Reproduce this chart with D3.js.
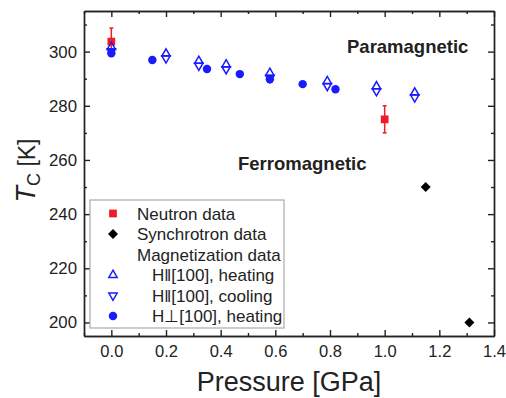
<!DOCTYPE html>
<html>
<head>
<meta charset="utf-8">
<script src="https://cdn.jsdelivr.net/npm/d3@7"></script>
<style>
  body { margin: 0; background: #fff; }
  svg text { font-family: "Liberation Sans", Arial, sans-serif; fill: #222; }
  .axis path, .axis line { stroke: #222; stroke-width: 1.4; }
</style>
</head>
<body>
<div id="chart"></div>
<script>
//data
var neutronP = [0.0, 1.0];
var neutronT = [303.7, 275.0];
var neutronErr = [5, 5];

var synchP = [1.15, 1.31];
var synchT = [250, 200];

var heatP = [0.0, 0.2, 0.32, 0.42, 0.58, 0.79, 0.97, 1.11];
var heatT = [301.7, 299.25, 296.55, 295.25, 292.1, 289.05, 287.15, 284.85];

var coolP = [0.0, 0.2, 0.32, 0.42, 0.58, 0.79, 0.97, 1.11];
var coolT = [300.2, 297.55, 294.85, 293.55, 290.4, 287.35, 285.45, 283.15];

var perpP = [0.0, 0.15, 0.35, 0.47, 0.58, 0.70, 0.82];
var perpT = [299.4, 296.9, 293.6, 291.7, 289.8, 288.0, 286.1];

var xTicks = [0.0, 0.2, 0.4, 0.6, 0.8, 1.0, 1.2, 1.4];
var xMinor = [-0.1, 0.1, 0.3, 0.5, 0.7, 0.9, 1.1, 1.3];
var yTicks = [200, 220, 240, 260, 280, 300];
var yMinor = [210, 230, 250, 270, 290, 310];

var legendLabels = ["Neutron data", "Synchrotron data", "Magnetization data",
                    "H\u2016[100], heating", "H\u2016[100], cooling", "H\u22a5[100], heating"];

var red = "#ee1c25", blue = "#1a1aff", black = "#000";

//set up svg
var W = 506, H = 398;
var margin = {top: 11, right: 12, bottom: 62, left: 84};
var width = W - margin.left - margin.right,
    height = H - margin.top - margin.bottom;

var svg = d3.select("#chart").append("svg")
    .attr("width", W).attr("height", H)
  .append("g")
    .attr("transform", "translate(" + margin.left + "," + margin.top + ")");

var x = d3.scaleLinear().domain([-0.1, 1.4]).range([0, width]);
var y = d3.scaleLinear().domain([195, 315]).range([height, 0]);

//axes with inward ticks
svg.append("g").attr("class", "axis")
    .attr("transform", "translate(0," + height + ")")
    .call(d3.axisBottom(x).tickValues(xTicks).tickFormat(d3.format(".1f")).tickSize(-6).tickPadding(9).tickSizeOuter(0))
    .call(g => g.selectAll("text").style("font-size", "16.5px"));
svg.append("g").attr("class", "axis")
    .attr("transform", "translate(0," + height + ")")
    .call(d3.axisBottom(x).tickValues(xMinor).tickFormat("").tickSize(-3).tickSizeOuter(0));
svg.append("g").attr("class", "axis")
    .call(d3.axisTop(x).tickValues(xTicks).tickFormat("").tickSize(-6).tickSizeOuter(0));
svg.append("g").attr("class", "axis")
    .call(d3.axisTop(x).tickValues(xMinor).tickFormat("").tickSize(-3).tickSizeOuter(0));

svg.append("g").attr("class", "axis")
    .call(d3.axisLeft(y).tickValues(yTicks).tickSize(-6).tickPadding(7).tickSizeOuter(0))
    .call(g => g.selectAll("text").style("font-size", "16.8px"));
svg.append("g").attr("class", "axis")
    .call(d3.axisLeft(y).tickValues(yMinor).tickFormat("").tickSize(-3).tickSizeOuter(0));
svg.append("g").attr("class", "axis")
    .attr("transform", "translate(" + width + ",0)")
    .call(d3.axisRight(y).tickValues(yTicks).tickFormat("").tickSize(-6).tickSizeOuter(0));
svg.append("g").attr("class", "axis")
    .attr("transform", "translate(" + width + ",0)")
    .call(d3.axisRight(y).tickValues(yMinor).tickFormat("").tickSize(-3).tickSizeOuter(0));

//axis titles
svg.append("text")
    .attr("x", width / 2).attr("y", height + 55)
    .attr("text-anchor", "middle")
    .style("font-size", "27px")
    .text("Pressure [GPa]");

var yt = svg.append("text")
    .attr("transform", "translate(-49," + (height / 2 - 3) + ") rotate(-90)")
    .attr("text-anchor", "middle");
yt.append("tspan").style("font-size", "27px").style("font-style", "italic").text("T");
yt.append("tspan").style("font-size", "18px").attr("dy", 5).text("C");
yt.append("tspan").style("font-size", "23px").attr("dy", -5).text(" [K]");

//region labels
svg.append("text").attr("x", 263).attr("y", 42)
    .style("font-size", "18.5px").style("font-weight", "bold").text("Paramagnetic");
svg.append("text").attr("x", 154).attr("y", 159)
    .style("font-size", "18.5px").style("font-weight", "bold").text("Ferromagnetic");

//symbols
var sq = d3.symbol().type(d3.symbolSquare).size(60)();
var dia = d3.symbol().type(d3.symbolSquare).size(50)();
var tri = d3.symbol().type(d3.symbolTriangle).size(30)();
var circ = d3.symbol().type(d3.symbolCircle).size(56)();

//neutron error bars
var neutron = neutronP.map((p, i) => ({p: p, t: neutronT[i], e: neutronErr[i]}));
var eb = svg.append("g").attr("stroke", red).attr("stroke-width", 1.5);
eb.selectAll(".v").data(neutron).enter().append("line")
    .attr("x1", d => x(d.p)).attr("x2", d => x(d.p))
    .attr("y1", d => y(d.t - d.e)).attr("y2", d => y(d.t + d.e));
eb.selectAll(".c1").data(neutron).enter().append("line")
    .attr("x1", d => x(d.p) - 2).attr("x2", d => x(d.p) + 2)
    .attr("y1", d => y(d.t + d.e)).attr("y2", d => y(d.t + d.e));
eb.selectAll(".c2").data(neutron).enter().append("line")
    .attr("x1", d => x(d.p) - 2).attr("x2", d => x(d.p) + 2)
    .attr("y1", d => y(d.t - d.e)).attr("y2", d => y(d.t - d.e));

svg.selectAll(".neu").data(neutron).enter().append("path")
    .attr("d", sq).attr("fill", red)
    .attr("transform", d => "translate(" + x(d.p) + "," + y(d.t) + ")");

svg.selectAll(".syn").data(synchP.map((p, i) => [p, synchT[i]])).enter().append("path")
    .attr("d", dia).attr("fill", black)
    .attr("transform", d => "translate(" + x(d[0]) + "," + y(d[1]) + ") rotate(45)");

svg.selectAll(".heat").data(heatP.map((p, i) => [p, heatT[i]])).enter().append("path")
    .attr("d", tri).attr("fill", "none").attr("stroke", blue).attr("stroke-width", 1.5)
    .attr("transform", d => "translate(" + x(d[0]) + "," + y(d[1]) + ")");

svg.selectAll(".cool").data(coolP.map((p, i) => [p, coolT[i]])).enter().append("path")
    .attr("d", tri).attr("fill", "none").attr("stroke", blue).attr("stroke-width", 1.5)
    .attr("transform", d => "translate(" + x(d[0]) + "," + y(d[1]) + ") rotate(180)");

svg.selectAll(".perp").data(perpP.map((p, i) => [p, perpT[i]])).enter().append("path")
    .attr("d", circ).attr("fill", blue)
    .attr("transform", d => "translate(" + x(d[0]) + "," + y(d[1]) + ")");

//legend
var lg = svg.append("g").attr("transform", "translate(6,189)");
lg.append("rect").attr("width", 194).attr("height", 128)
    .attr("fill", "#fff").attr("stroke", "#aaa").attr("stroke-width", 1.2);
var rowH = 20.5;
legendLabels.forEach(function(l, i) {
  var cy = 13.5 + i * rowH;
  var indent = i >= 3 ? 15 : 0;
  lg.append("text").attr("x", 47 + indent).attr("y", cy + 6)
      .style("font-size", "17px").text(l);
  var m = lg.append("path").attr("transform", "translate(23," + cy + ")" + (i == 1 ? " rotate(45)" : i == 4 ? " rotate(180)" : ""));
  if (i == 0) m.attr("d", sq).attr("fill", red);
  else if (i == 1) m.attr("d", dia).attr("fill", black);
  else if (i == 2) m.remove();
  else if (i == 5) m.attr("d", circ).attr("fill", blue);
  else m.attr("d", tri).attr("fill", "none").attr("stroke", blue).attr("stroke-width", 1.5);
});
</script>
</body>
</html>
